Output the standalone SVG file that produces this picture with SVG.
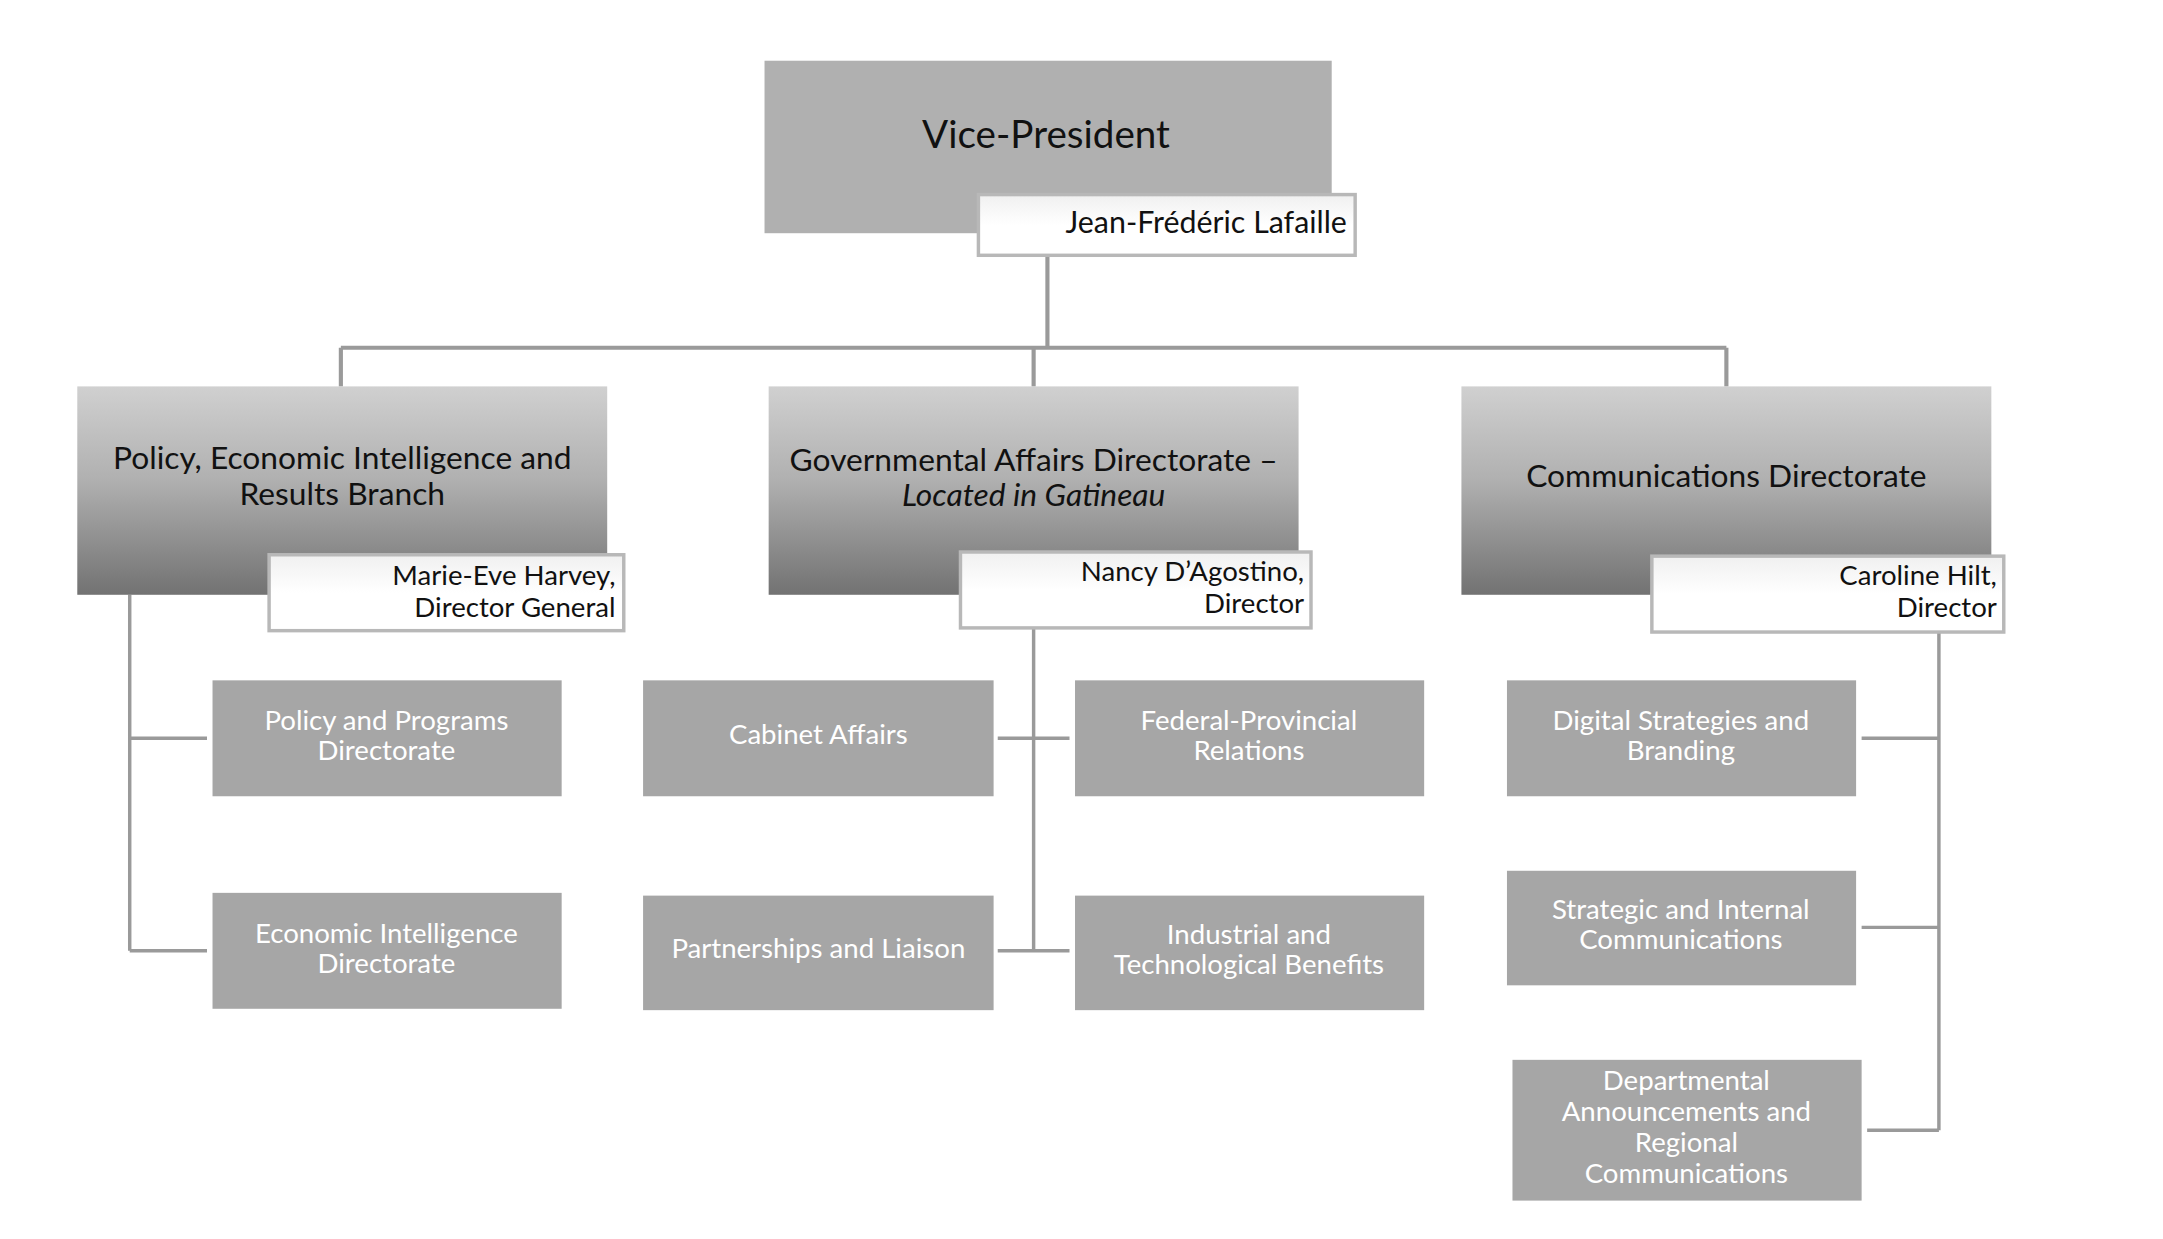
<svg xmlns="http://www.w3.org/2000/svg" width="2163" height="1239" viewBox="0 0 2163 1239">
<defs>
<linearGradient id="g" x1="0" y1="0" x2="0" y2="1"><stop offset="0" stop-color="#d0d0d0"/><stop offset="0.45" stop-color="#b0b0b0"/><stop offset="1" stop-color="#727272"/></linearGradient>
<linearGradient id="w" x1="0" y1="0" x2="0" y2="1"><stop offset="0" stop-color="#f0f0f0"/><stop offset="0.5" stop-color="#ffffff"/></linearGradient>
</defs>
<style>
text{font-family:Lato,"Open Sans","Liberation Sans",sans-serif}
.top{fill:#b0b0b0}
.br{fill:url(#g)}
.nm{fill:url(#w);stroke:#b8b8b8;stroke-width:2.5}
.ch{fill:#a6a6a6}
.bt{font-size:23px;fill:#111;text-anchor:middle}
.nt{font-size:20px;fill:#111;text-anchor:end}
.ct{font-size:20px;fill:#fff;text-anchor:middle}
.ln{stroke:#9a9a9a;stroke-width:2.5;fill:none}
</style>
<rect width="2163" height="1239" fill="#fff"/>
<g transform="scale(1.38)">
<g id="connectors">
<path class="ln" d="M759 185V252M247 252H1251M247 252V280M749 252V280M1251 252V280" style="stroke-width:3"/>
<path class="ln" d="M94 431V689M94 535H150M94 689H150"/>
<path class="ln" d="M749 455V689M723 535H775M723 689H775"/>
<path class="ln" d="M1405 458V819M1349 535H1405M1349 672H1405M1353 819H1405"/>
</g>
<g id="vp"><rect class="top" x="554" y="44" width="411" height="125"/><text x="758" y="107" style="font-size:28px;fill:#111;text-anchor:middle">Vice-President</text></g>
<g id="vp-name"><rect class="nm" x="709" y="141" width="273" height="44"/><text class="nt" x="976" y="169" style="font-size:22px">Jean-Frédéric Lafaille</text></g>
<g id="b1"><rect class="br" x="56" y="280" width="384" height="151"/><text class="bt" x="248" y="340">Policy, Economic Intelligence and</text><text class="bt" x="248" y="366">Results Branch</text></g>
<g id="b1-name"><rect class="nm" x="195" y="402" width="257" height="55"/><text class="nt" x="446" y="424">Marie-Eve Harvey,</text><text class="nt" x="446" y="447">Director General</text></g>
<g id="b2"><rect class="br" x="557" y="280" width="384" height="151"/><text class="bt" x="749" y="341">Governmental Affairs Directorate –</text><text class="bt" x="749" y="367" font-style="italic">Located in Gatineau</text></g>
<g id="b2-name"><rect class="nm" x="696" y="400" width="254" height="55"/><text class="nt" x="945" y="421">Nancy D’Agostino,</text><text class="nt" x="945" y="444">Director</text></g>
<g id="b3"><rect class="br" x="1059" y="280" width="384" height="151"/><text class="bt" x="1251" y="353">Communications Directorate</text></g>
<g id="b3-name"><rect class="nm" x="1197" y="403" width="255" height="55"/><text class="nt" x="1447" y="424">Caroline Hilt,</text><text class="nt" x="1447" y="447">Director</text></g>
<g id="c1"><rect class="ch" x="154" y="493" width="253" height="84"/><text class="ct" x="280" y="529">Policy and Programs</text><text class="ct" x="280" y="551">Directorate</text></g>
<g id="c2"><rect class="ch" x="154" y="647" width="253" height="84"/><text class="ct" x="280" y="683">Economic Intelligence</text><text class="ct" x="280" y="705">Directorate</text></g>
<g id="c3"><rect class="ch" x="466" y="493" width="254" height="84"/><text class="ct" x="593" y="539">Cabinet Affairs</text></g>
<g id="c4"><rect class="ch" x="779" y="493" width="253" height="84"/><text class="ct" x="905" y="529">Federal-Provincial</text><text class="ct" x="905" y="551">Relations</text></g>
<g id="c5"><rect class="ch" x="466" y="649" width="254" height="83"/><text class="ct" x="593" y="694">Partnerships and Liaison</text></g>
<g id="c6"><rect class="ch" x="779" y="649" width="253" height="83"/><text class="ct" x="905" y="684">Industrial and</text><text class="ct" x="905" y="706">Technological Benefits</text></g>
<g id="c7"><rect class="ch" x="1092" y="493" width="253" height="84"/><text class="ct" x="1218" y="529">Digital Strategies and</text><text class="ct" x="1218" y="551">Branding</text></g>
<g id="c8"><rect class="ch" x="1092" y="631" width="253" height="83"/><text class="ct" x="1218" y="666">Strategic and Internal</text><text class="ct" x="1218" y="688">Communications</text></g>
<g id="c9"><rect class="ch" x="1096" y="768" width="253" height="102"/><text class="ct" x="1222" y="790">Departmental</text><text class="ct" x="1222" y="812">Announcements and</text><text class="ct" x="1222" y="835">Regional</text><text class="ct" x="1222" y="857">Communications</text></g>
</g>
</svg>
